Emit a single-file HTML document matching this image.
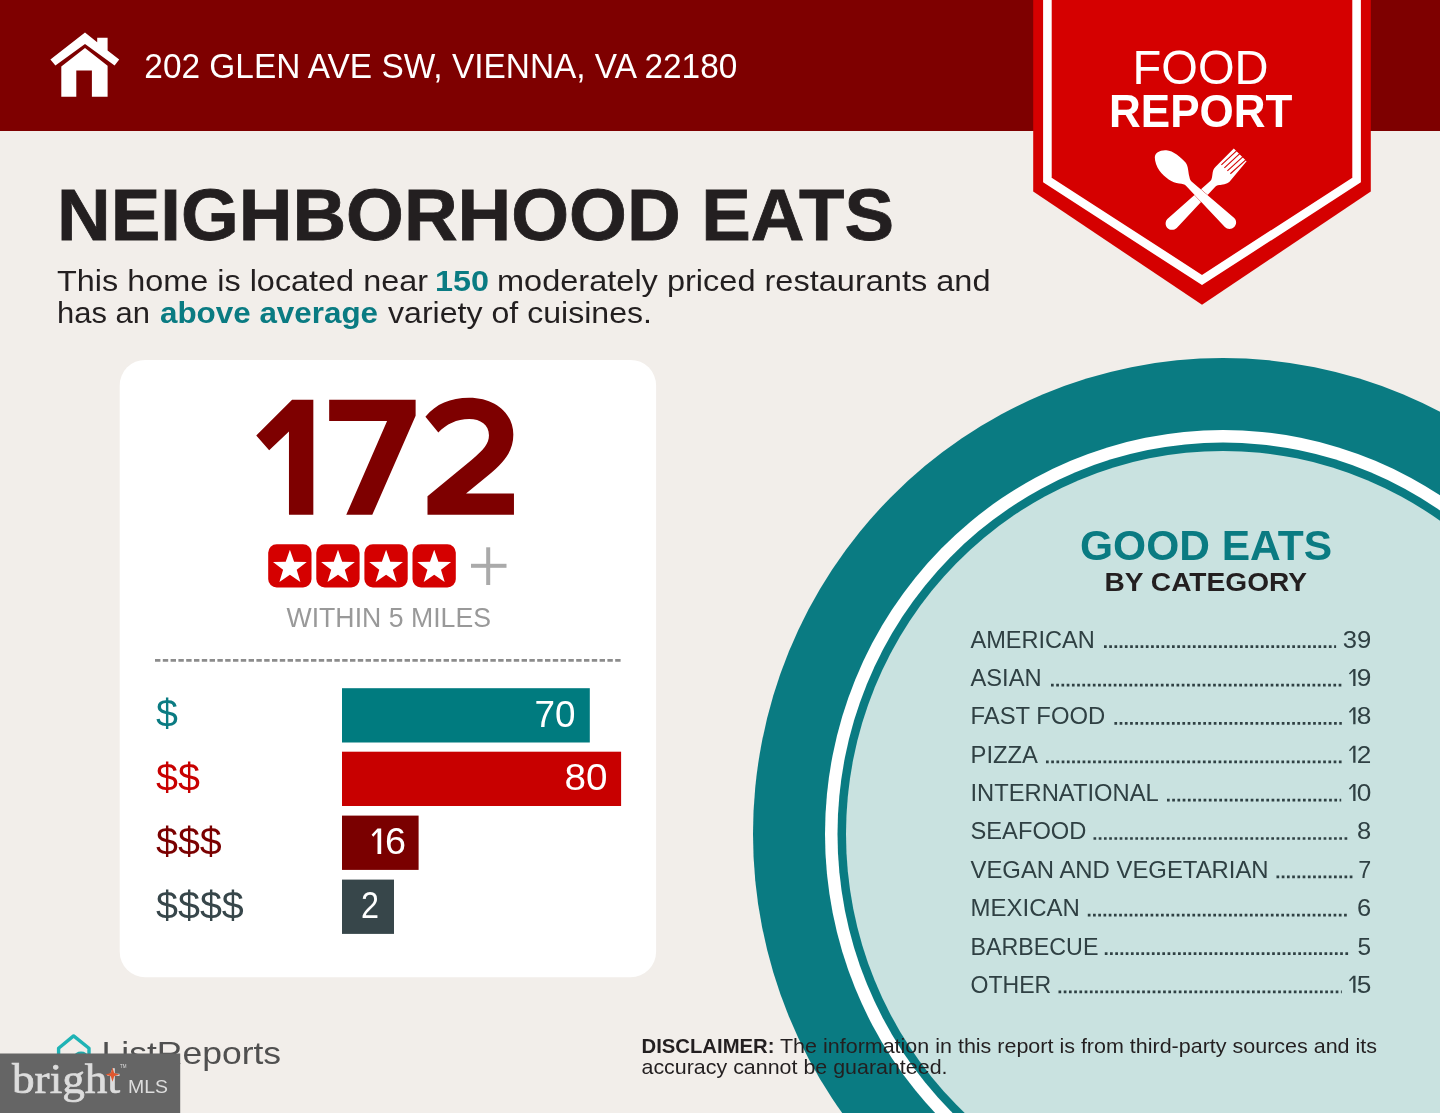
<!DOCTYPE html>
<html lang="en">
<head>
<meta charset="utf-8">
<title>Food Report - Neighborhood Eats</title>
<style>
html,body{margin:0;padding:0;background:#f2eeea;}
body{width:1440px;height:1113px;overflow:hidden;position:relative;font-family:"Liberation Sans",sans-serif;}
svg{position:absolute;left:0;top:0;display:block;will-change:transform;}
text{font-family:"Liberation Sans",sans-serif;white-space:pre;}
.serif{font-family:"Liberation Serif",serif;}
.b{font-weight:bold;}
</style>
</head>
<body>
<svg width="1440" height="1113" viewBox="0 0 1440 1113">
<rect x="0" y="0" width="1440" height="1113" fill="#f2eeea"/>
<g id="plate">
<ellipse cx="1223" cy="834" rx="470" ry="476" fill="#0a7b82"/>
<ellipse cx="1223" cy="834" rx="398" ry="404" fill="#ffffff"/>
<ellipse cx="1223" cy="834" rx="385.5" ry="391.5" fill="#0a7b82"/>
<ellipse cx="1223" cy="834" rx="377" ry="383" fill="#c9e2e0"/>
</g>
<rect x="0" y="0" width="1440" height="131" fill="#7e0000"/>
<g id="house" fill="#ffffff">
<polygon points="85,32.6 97.2,42.2 97.2,37.8 107.6,37.8 107.6,50.4 119.2,59.6 114.6,65.6 85,44 55.4,65.6 50.4,59.6"/>
<path d="M85 47.9 L107.6 65.7 L107.6 96.8 L91.9 96.8 L91.9 70.4 L76.3 70.4 L76.3 96.8 L61.3 96.8 L61.3 66.6 Z"/>
</g>
<text x="144.3" y="78.1" font-size="35" fill="#ffffff" textLength="593" lengthAdjust="spacingAndGlyphs">202 GLEN AVE SW, VIENNA, VA 22180</text>
<g id="badge">
<polygon points="1033.2,0 1370.8,0 1370.8,191.5 1202,304.8 1033.2,191.5" fill="#d50000"/>
<polyline points="1047.4,-5 1047.4,180 1202,280 1356.6,180 1356.6,-5" fill="none" stroke="#ffffff" stroke-width="8.6" stroke-linejoin="miter"/>
<text x="1132.5" y="83.5" font-size="47.5" fill="#ffffff" textLength="136" lengthAdjust="spacingAndGlyphs">FOOD</text>
<text x="1109" y="126.9" font-size="47" fill="#ffffff" class="b" textLength="183.5" lengthAdjust="spacingAndGlyphs">REPORT</text>
<g id="utensils" transform="translate(1145,140) scale(0.085375)">
<path d="M262 925 L765 480 C785 460 785 430 790 400 C795 360 800 340 830 310 L1040 100 L1190 250 L990 490 C960 520 900 525 870 528 C845 530 830 540 815 555 L372 1030 C340 1060 290 1060 262 1030 C235 1000 235 955 262 925 Z" fill="#ffffff"/>
<g stroke="#d50000" stroke-width="13" fill="none">
<line x1="895" y1="292" x2="1075" y2="125"/><line x1="930" y1="327" x2="1110" y2="160"/><line x1="965" y1="362" x2="1145" y2="197"/><line x1="1000" y1="395" x2="1180" y2="232"/>
</g>
<path d="M115 205 C115 150 175 115 250 120 C330 125 420 200 475 265 C510 310 505 380 520 430 C525 455 530 470 545 485 L1045 915 C1075 945 1075 990 1045 1020 C1015 1050 965 1050 935 1020 L480 535 C465 520 440 515 400 510 C320 500 230 440 170 360 C135 310 115 250 115 205 Z" fill="#ffffff" stroke="#d50000" stroke-width="9" paint-order="stroke"/>
</g>
</g>
<text x="57" y="239.7" font-size="72.5" fill="#231f20" class="b" textLength="837" lengthAdjust="spacingAndGlyphs" stroke="#231f20" stroke-width="0.8">NEIGHBORHOOD EATS</text>
<text x="57" y="290.7" font-size="28.8" fill="#231f20" textLength="371" lengthAdjust="spacingAndGlyphs">This home is located near</text>
<text x="435" y="290.7" font-size="28.8" fill="#0a7b82" class="b" textLength="54" lengthAdjust="spacingAndGlyphs">150</text>
<text x="497" y="290.7" font-size="28.8" fill="#231f20" textLength="493.5" lengthAdjust="spacingAndGlyphs">moderately priced restaurants and</text>
<text x="57" y="323.0" font-size="28.8" fill="#231f20" textLength="93" lengthAdjust="spacingAndGlyphs">has an</text>
<text x="160" y="323.0" font-size="28.8" fill="#0a7b82" class="b" textLength="218" lengthAdjust="spacingAndGlyphs">above average</text>
<text x="388" y="323.0" font-size="28.8" fill="#231f20" textLength="264" lengthAdjust="spacingAndGlyphs">variety of cuisines.</text>
<rect x="119.7" y="359.9" width="536.4" height="617.3" rx="25.5" ry="25.5" fill="#ffffff"/>
<g id="big172" fill="#7e0000" transform="translate(240,380) scale(0.208333)">
<polygon points="250,95 352,95 352,647 235,647 235,247 140,337 78,266"/>
<polygon points="428,95 843,95 843,172 635,647 510,647 706,197 428,197"/>
<path d="M890 176 C940 115 1010 85 1100 85 C1225 85 1312 160 1312 262 C1312 340 1270 395 1195 455 L1085 545 L1315 545 L1315 647 L900 647 L900 558 L1110 385 C1170 335 1195 305 1195 265 C1195 215 1155 187 1100 187 C1040 187 990 212 952 252 Z"/>
</g>
<rect x="268.2" y="544.2" width="43.3" height="43.2" rx="8.5" ry="8.5" fill="#d50000"/><polygon points="289.9,549.8 294.1,561.8 306.8,562.1 296.7,569.8 300.4,582.0 289.9,574.7 279.4,582.0 283.1,569.8 273.0,562.1 285.7,561.8" fill="#ffffff"/>
<rect x="316.3" y="544.2" width="43.3" height="43.2" rx="8.5" ry="8.5" fill="#d50000"/><polygon points="338.0,549.8 342.2,561.8 354.9,562.1 344.8,569.8 348.5,582.0 338.0,574.7 327.5,582.0 331.2,569.8 321.1,562.1 333.8,561.8" fill="#ffffff"/>
<rect x="364.4" y="544.2" width="43.3" height="43.2" rx="8.5" ry="8.5" fill="#d50000"/><polygon points="386.1,549.8 390.3,561.8 403.0,562.1 392.9,569.8 396.6,582.0 386.1,574.7 375.6,582.0 379.3,569.8 369.2,562.1 381.9,561.8" fill="#ffffff"/>
<rect x="412.5" y="544.2" width="43.3" height="43.2" rx="8.5" ry="8.5" fill="#d50000"/><polygon points="434.2,549.8 438.4,561.8 451.1,562.1 441.0,569.8 444.7,582.0 434.2,574.7 423.7,582.0 427.4,569.8 417.3,562.1 430.0,561.8" fill="#ffffff"/>
<rect x="471" y="563.8" width="35.5" height="4" fill="#aaaaaa"/><rect x="486.2" y="547.3" width="4" height="37.7" fill="#aaaaaa"/>
<text x="286.5" y="626.6" font-size="27.3" fill="#999999" textLength="204.5" lengthAdjust="spacingAndGlyphs">WITHIN 5 MILES</text>
<line x1="155" y1="660.4" x2="621.5" y2="660.4" stroke="#8c8c8c" stroke-width="2.6" stroke-dasharray="5.4 2.4"/>
<rect x="342" y="688.2" width="247.8" height="54.3" fill="#007b7f"/><text x="534.5" y="726.5" font-size="37" fill="#ffffff" textLength="41.0" lengthAdjust="spacingAndGlyphs">70</text><text x="156" y="727.3000000000001" font-size="38.6" fill="#0a7b82" textLength="21.9" lengthAdjust="spacingAndGlyphs">$</text>
<rect x="342" y="751.7" width="279.1" height="54.3" fill="#c80000"/><text x="564.5" y="790.0" font-size="37" fill="#ffffff" textLength="43.0" lengthAdjust="spacingAndGlyphs">80</text><text x="156" y="790.8000000000001" font-size="38.6" fill="#c80000" textLength="43.9" lengthAdjust="spacingAndGlyphs">$$</text>
<rect x="342" y="815.6" width="76.6" height="54.3" fill="#7a0000"/><polygon points="377.50,828.60 381.20,828.60 381.20,853.90 377.50,853.90 377.50,832.12 373.34,836.64 371.60,834.79" fill="#ffffff"/><text x="384.9" y="853.9" font-size="37" fill="#ffffff" textLength="21.0" lengthAdjust="spacingAndGlyphs">6</text><text x="156" y="854.7" font-size="38.6" fill="#7a0000" textLength="65.8" lengthAdjust="spacingAndGlyphs">$$$</text>
<rect x="342" y="879.6" width="52.0" height="54.3" fill="#37464a"/><text x="361" y="917.9" font-size="37" fill="#ffffff" textLength="18" lengthAdjust="spacingAndGlyphs">2</text><text x="156" y="918.7" font-size="38.6" fill="#37464a" textLength="87.8" lengthAdjust="spacingAndGlyphs">$$$$</text>
<text x="1080" y="560" font-size="42" fill="#0a7b82" class="b" textLength="252" lengthAdjust="spacingAndGlyphs">GOOD EATS</text>
<text x="1104.5" y="591" font-size="26.6" fill="#231f20" class="b" textLength="202.5" lengthAdjust="spacingAndGlyphs">BY CATEGORY</text>
<text x="970.5" y="647.6" font-size="24" fill="#2f4043" textLength="124.3" lengthAdjust="spacingAndGlyphs">AMERICAN</text><line x1="1104" y1="646.7" x2="1336.1" y2="646.7" stroke="#2f4043" stroke-width="2.7" stroke-dasharray="2.7 2.53"/><text x="1342.7" y="647.6" font-size="24" fill="#2f4043" textLength="28.5" lengthAdjust="spacingAndGlyphs">39</text>
<text x="970.5" y="686.0" font-size="24" fill="#2f4043" textLength="71.1" lengthAdjust="spacingAndGlyphs">ASIAN</text><line x1="1051" y1="685.1" x2="1341.8" y2="685.1" stroke="#2f4043" stroke-width="2.7" stroke-dasharray="2.7 2.53"/><polygon points="1353.20,668.96 1355.50,668.96 1355.50,685.96 1353.20,685.96 1353.20,671.14 1349.98,674.62 1348.90,673.48" fill="#2f4043"/><text x="1356.7" y="686.0" font-size="24" fill="#2f4043" textLength="14.6" lengthAdjust="spacingAndGlyphs">9</text>
<text x="970.5" y="724.3" font-size="24" fill="#2f4043" textLength="134.7" lengthAdjust="spacingAndGlyphs">FAST FOOD</text><line x1="1114.4" y1="723.4" x2="1341.8" y2="723.4" stroke="#2f4043" stroke-width="2.7" stroke-dasharray="2.7 2.53"/><polygon points="1353.20,707.32 1355.50,707.32 1355.50,724.32 1353.20,724.32 1353.20,709.50 1349.98,712.99 1348.90,711.84" fill="#2f4043"/><text x="1356.7" y="724.3" font-size="24" fill="#2f4043" textLength="14.6" lengthAdjust="spacingAndGlyphs">8</text>
<text x="970.5" y="762.7" font-size="24" fill="#2f4043" textLength="67.5" lengthAdjust="spacingAndGlyphs">PIZZA</text><line x1="1046" y1="761.8" x2="1341.8" y2="761.8" stroke="#2f4043" stroke-width="2.7" stroke-dasharray="2.7 2.53"/><polygon points="1353.20,745.68 1355.50,745.68 1355.50,762.68 1353.20,762.68 1353.20,747.87 1349.98,751.35 1348.90,750.20" fill="#2f4043"/><text x="1356.7" y="762.7" font-size="24" fill="#2f4043" textLength="14.6" lengthAdjust="spacingAndGlyphs">2</text>
<text x="970.5" y="801.0" font-size="24" fill="#2f4043" textLength="188.2" lengthAdjust="spacingAndGlyphs">INTERNATIONAL</text><line x1="1167" y1="800.1" x2="1341.2" y2="800.1" stroke="#2f4043" stroke-width="2.7" stroke-dasharray="2.7 2.53"/><polygon points="1353.20,784.04 1355.50,784.04 1355.50,801.04 1353.20,801.04 1353.20,786.22 1349.98,789.70 1348.90,788.55" fill="#2f4043"/><text x="1356.7" y="801.0" font-size="24" fill="#2f4043" textLength="14.6" lengthAdjust="spacingAndGlyphs">0</text>
<text x="970.5" y="839.4" font-size="24" fill="#2f4043" textLength="115.9" lengthAdjust="spacingAndGlyphs">SEAFOOD</text><line x1="1093.5" y1="838.5" x2="1348.7" y2="838.5" stroke="#2f4043" stroke-width="2.7" stroke-dasharray="2.7 2.53"/><text x="1357" y="839.4" font-size="24" fill="#2f4043" textLength="14.2" lengthAdjust="spacingAndGlyphs">8</text>
<text x="970.5" y="877.8" font-size="24" fill="#2f4043" textLength="298.1" lengthAdjust="spacingAndGlyphs">VEGAN AND VEGETARIAN</text><line x1="1276.5" y1="876.9" x2="1352.5" y2="876.9" stroke="#2f4043" stroke-width="2.7" stroke-dasharray="2.7 2.53"/><text x="1358.2" y="877.8" font-size="24" fill="#2f4043" textLength="13.0" lengthAdjust="spacingAndGlyphs">7</text>
<text x="970.5" y="916.1" font-size="24" fill="#2f4043" textLength="109.3" lengthAdjust="spacingAndGlyphs">MEXICAN</text><line x1="1087.8" y1="915.2" x2="1348.7" y2="915.2" stroke="#2f4043" stroke-width="2.7" stroke-dasharray="2.7 2.53"/><text x="1357" y="916.1" font-size="24" fill="#2f4043" textLength="14.2" lengthAdjust="spacingAndGlyphs">6</text>
<text x="970.5" y="954.5" font-size="24" fill="#2f4043" textLength="127.9" lengthAdjust="spacingAndGlyphs">BARBECUE</text><line x1="1104.8" y1="953.6" x2="1348.7" y2="953.6" stroke="#2f4043" stroke-width="2.7" stroke-dasharray="2.7 2.53"/><text x="1357.6" y="954.5" font-size="24" fill="#2f4043" textLength="13.6" lengthAdjust="spacingAndGlyphs">5</text>
<text x="970.5" y="992.8" font-size="24" fill="#2f4043" textLength="80.7" lengthAdjust="spacingAndGlyphs">OTHER</text><line x1="1058.5" y1="991.9" x2="1341.8" y2="991.9" stroke="#2f4043" stroke-width="2.7" stroke-dasharray="2.7 2.53"/><polygon points="1353.20,975.84 1355.50,975.84 1355.50,992.84 1353.20,992.84 1353.20,978.02 1349.98,981.50 1348.90,980.36" fill="#2f4043"/><text x="1356.7" y="992.8" font-size="24" fill="#2f4043" textLength="14.6" lengthAdjust="spacingAndGlyphs">5</text>
<text x="641.5" y="1052.5" font-size="21" fill="#231f20" class="b" textLength="133" lengthAdjust="spacingAndGlyphs">DISCLAIMER:</text><text x="780" y="1052.5" font-size="21" fill="#231f20" textLength="597" lengthAdjust="spacingAndGlyphs">The information in this report is from third-party sources and its</text><text x="641.5" y="1074.2" font-size="21" fill="#231f20" textLength="306" lengthAdjust="spacingAndGlyphs">accuracy cannot be guaranteed.</text>
<g id="listreports">
<path d="M58.6 1072 L58.6 1048.3 L73.6 1035.9 L89 1048.3 L89 1072" fill="none" stroke="#1fb3b5" stroke-width="3.4" stroke-linejoin="round" stroke-linecap="round"/>
<ellipse cx="81" cy="1056.2" rx="7" ry="4.6" fill="#1fa9a9"/>
<text x="101.6" y="1063.7" font-size="32" fill="#505050" textLength="179.5" lengthAdjust="spacingAndGlyphs">ListReports</text>
</g>
<rect x="0" y="1053.5" width="180.2" height="60" fill="#656565"/>
<text x="12" y="1092.9" font-size="42" fill="#dddddd" class="serif" textLength="108" lengthAdjust="spacingAndGlyphs" stroke="#dddddd" stroke-width="0.7">bright</text><text x="128" y="1092.9" font-size="17.5" fill="#dddddd" textLength="40" lengthAdjust="spacingAndGlyphs">MLS</text><polygon points="112.5,1067.5 114.2,1072.9 119.5,1074.6 114.2,1076.3 112.5,1081.7 110.8,1076.3 105.5,1074.6 110.8,1072.9" fill="#e0572f"/><text x="120" y="1067.5" font-size="4.5" fill="#dddddd">TM</text>
</svg>
</body>
</html>
